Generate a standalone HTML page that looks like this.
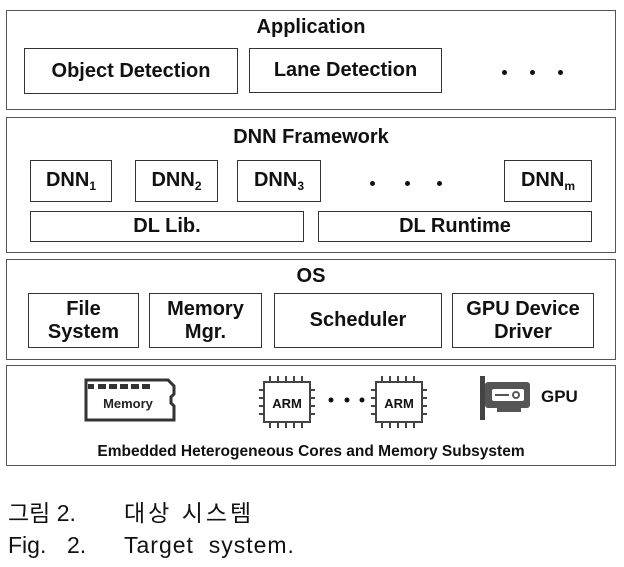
<!DOCTYPE html>
<html><head><meta charset="utf-8"><style>
body{margin:0;width:624px;height:567px;background:#fff;font-family:"Liberation Sans","Noto Sans CJK KR",sans-serif;position:relative;overflow:hidden}
.b{position:absolute;border:1.5px solid #333;box-sizing:border-box;display:flex;align-items:center;justify-content:center;text-align:center;font-weight:bold;color:#111;line-height:1.15}
.t{position:absolute;font-weight:bold;color:#111;text-align:center}
.d{position:absolute;width:5px;height:5px;border-radius:50%;background:#111}
sub{font-size:60%;vertical-align:-4px}
.cap{position:absolute;font-size:23px;color:#111;font-weight:normal;white-space:nowrap}
</style></head><body>
<div class="b" style="left:6px;top:10px;width:610px;height:100px;border-color:#555"></div>
<div class="t" style="left:6px;width:610px;top:16px;font-size:20px">Application</div>
<div class="b" style="left:24px;top:48px;width:214px;height:46px;font-size:20px">Object Detection</div>
<div class="b" style="left:249px;top:48px;width:193px;height:45px;font-size:20px">Lane Detection</div>
<div class="d" style="left:502px;top:70px"></div><div class="d" style="left:530px;top:70px"></div><div class="d" style="left:558px;top:70px"></div>
<div class="b" style="left:6px;top:117px;width:610px;height:136px;border-color:#555"></div>
<div class="t" style="left:6px;width:610px;top:126px;font-size:20px">DNN Framework</div>
<div class="b" style="left:30px;top:160px;width:82px;height:42px;font-size:20px"><span>DNN<sub>1</sub></span></div>
<div class="b" style="left:135px;top:160px;width:83px;height:42px;font-size:20px"><span>DNN<sub>2</sub></span></div>
<div class="b" style="left:237px;top:160px;width:84px;height:42px;font-size:20px"><span>DNN<sub>3</sub></span></div>
<div class="d" style="left:370px;top:181px"></div><div class="d" style="left:405px;top:181px"></div><div class="d" style="left:437px;top:181px"></div>
<div class="b" style="left:504px;top:160px;width:88px;height:42px;font-size:20px"><span>DNN<sub>m</sub></span></div>
<div class="b" style="left:30px;top:211px;width:274px;height:31px;font-size:20px">DL Lib.</div>
<div class="b" style="left:318px;top:211px;width:274px;height:31px;font-size:20px">DL Runtime</div>
<div class="b" style="left:6px;top:259px;width:610px;height:101px;border-color:#555"></div>
<div class="t" style="left:6px;width:610px;top:265px;font-size:20px">OS</div>
<div class="b" style="left:28px;top:293px;width:111px;height:55px;font-size:20px">File<br>System</div>
<div class="b" style="left:149px;top:293px;width:113px;height:55px;font-size:20px">Memory<br>Mgr.</div>
<div class="b" style="left:274px;top:293px;width:168px;height:55px;font-size:20px">Scheduler</div>
<div class="b" style="left:452px;top:293px;width:142px;height:55px;font-size:20px">GPU Device<br>Driver</div>
<div class="b" style="left:6px;top:365px;width:610px;height:101px;border-color:#555"></div>
<svg style="position:absolute;left:0;top:360px" width="624" height="80">
 <g fill="none" stroke="#333" stroke-width="3">
  <path d="M86 20 h82 l6 6 v8 l-3 3 v6 l3 3 v14 h-88 z"/>
 </g>
 <g fill="#333"><rect x="98" y="24" width="8" height="5"/><rect x="109" y="24" width="8" height="5"/><rect x="120" y="24" width="8" height="5"/><rect x="131" y="24" width="8" height="5"/><rect x="142" y="24" width="8" height="5"/><rect x="88" y="24" width="6" height="5"/></g>
 <text x="128" y="48" font-family="Liberation Sans" font-weight="bold" font-size="13" text-anchor="middle" fill="#222">Memory</text>
 <g stroke="#444" stroke-width="2" fill="none">
  <rect x="264" y="22" width="46" height="40"/><rect x="376" y="22" width="46" height="40"/>
  <path d="M270 22v-6M278 22v-6M286 22v-6M294 22v-6M302 22v-6M270 62v6M278 62v6M286 62v6M294 62v6M302 62v6M264 30h-5M264 38h-5M264 46h-5M264 54h-5M310 30h5M310 38h5M310 46h5M310 54h5"/>
  <path d="M382 22v-6M390 22v-6M398 22v-6M406 22v-6M414 22v-6M382 62v6M390 62v6M398 62v6M406 62v6M414 62v6M376 30h-5M376 38h-5M376 46h-5M376 54h-5M422 30h5M422 38h5M422 46h5M422 54h5"/>
 </g>
 <text x="287" y="48" font-family="Liberation Sans" font-weight="bold" font-size="13" text-anchor="middle" fill="#111">ARM</text>
 <text x="399" y="48" font-family="Liberation Sans" font-weight="bold" font-size="13" text-anchor="middle" fill="#111">ARM</text>
 <circle cx="331" cy="40" r="2.5" fill="#111"/><circle cx="347" cy="40" r="2.5" fill="#111"/><circle cx="362" cy="40" r="2.5" fill="#111"/>
 <rect x="480" y="16" width="5" height="44" fill="#444"/>
 <rect x="485" y="22" width="45" height="26" rx="3" fill="#555"/>
 <rect x="492" y="29" width="32" height="12" rx="2" fill="#fff"/>
 <line x1="495" y1="35" x2="509" y2="35" stroke="#555" stroke-width="2"/><circle cx="516" cy="35" r="3" fill="none" stroke="#555" stroke-width="2"/>
 <rect x="497" y="48" width="24" height="4" fill="#555"/>
 <text x="541" y="42" font-family="Liberation Sans" font-weight="bold" font-size="17" fill="#111">GPU</text>
</svg>
<div class="t" style="left:6px;width:610px;top:443px;font-size:15.5px">Embedded Heterogeneous Cores and Memory Subsystem</div>
<div class="cap" style="left:8px;top:494px">그림 2.</div>
<div class="cap" style="left:124px;top:494px;letter-spacing:3px">대상 시스템</div>
<div class="cap" style="left:8px;top:532px">Fig.</div>
<div class="cap" style="left:67px;top:532px">2.</div>
<div class="cap" style="left:124px;top:532px;letter-spacing:1px">Target&nbsp;&nbsp;system.</div>
</body></html>
